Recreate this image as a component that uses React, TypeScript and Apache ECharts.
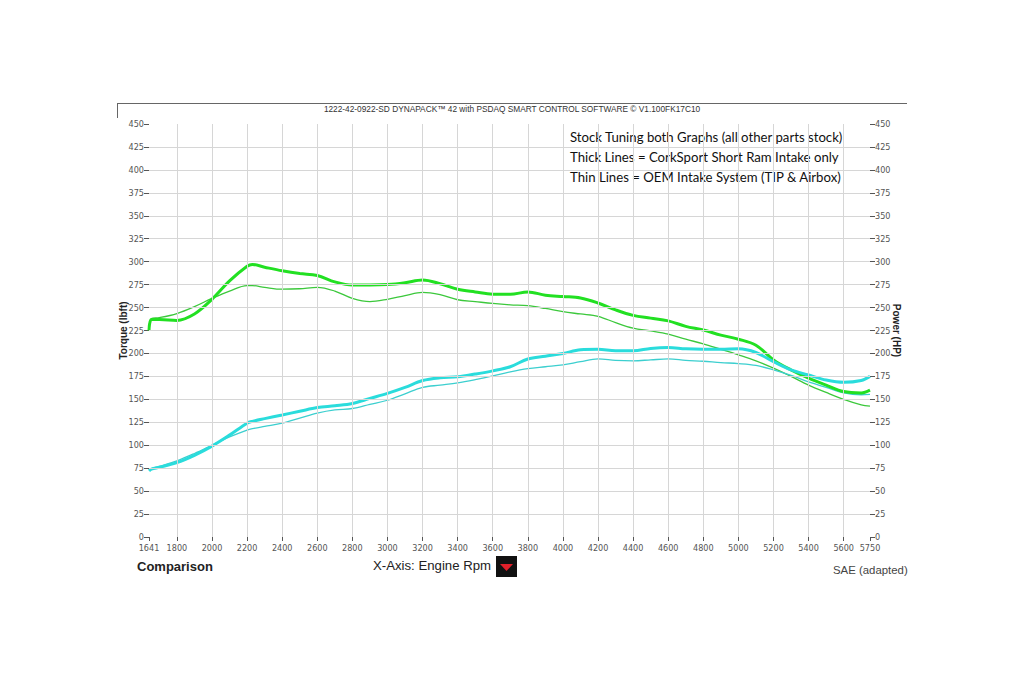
import React, { useEffect, useRef } from "react";
import * as echarts from "echarts";

const rpm = [1641, 1655, 1700, 1800, 1900, 2000, 2100, 2200, 2230, 2300, 2400, 2500, 2600, 2700, 2800, 2900, 3000, 3100, 3200, 3300, 3400, 3500, 3600, 3700, 3800, 3900, 4000, 4100, 4200, 4300, 4400, 4500, 4600, 4700, 4800, 4900, 5000, 5100, 5200, 5300, 5400, 5500, 5600, 5700, 5750];

const torqueThick = [225, 237, 237, 236, 243, 259, 279, 295, 297, 294, 290, 287, 285, 278, 274.5, 274.5, 275, 277, 280, 276, 270, 267, 264.5, 264.5, 267, 263.5, 262, 260.5, 255, 247.5, 241.5, 238.5, 235.5, 229.5, 225.5, 220, 215.5, 209, 193, 182, 173, 165.5, 158.5, 157, 160];
const torqueThin = [228, 238, 239, 243.5, 251, 260, 268, 274, 274, 272, 270, 270.5, 272, 268, 260, 256.5, 259, 263, 266.5, 264, 258.5, 256.5, 254.5, 253, 252, 249, 245.5, 243, 240.5, 233.5, 227.5, 224.5, 221, 215.5, 210.5, 204.5, 198.5, 192, 184, 175, 165.5, 157.5, 150, 144, 142.5];
const powerThick = [72, 74, 76, 81, 89, 99, 111, 124, 126, 129, 133, 137, 141, 143, 145.5, 151, 156.5, 163, 170.5, 173.5, 174.5, 177.5, 181, 185.5, 194, 197, 200, 204, 204.5, 203, 203, 205.5, 206.5, 205, 204.5, 204.5, 205, 201, 191, 182, 176.5, 171, 168.5, 170.5, 175];
const powerThin = [73, 74.5, 77, 83, 91, 100, 109, 116.5, 118, 120.5, 124, 129.5, 135, 138.5, 140, 144.5, 149, 156, 163, 165.5, 168, 171.5, 175.5, 180, 183.5, 185.5, 187.5, 191, 194, 192.5, 192, 193, 194, 192.5, 191.5, 190, 189, 187, 182, 176, 169, 163, 157, 155, 155.5];

const rpmMin = 1641;
const rpmMax = 5750;
const rpmStep = 200;
const xGridValues = [1800, 2000, 2200, 2400, 2600, 2800, 3000, 3200, 3400, 3600, 3800, 4000, 4200, 4400, 4600, 4800, 5000, 5200, 5400, 5600];
const yGridValues = [25, 50, 75, 100, 125, 150, 175, 200, 225, 250, 275, 300, 325, 350, 375, 400, 425];

const titleText = "1222-42-0922-SD DYNAPACK\u2122 42 with PSDAQ SMART CONTROL SOFTWARE \u00a9 V1.100FK17C10";
const noteLines = [
  "Stock Tuning both Graphs (all other parts stock)",
  "Thick Lines = CorkSport Short Ram Intake only",
  "Thin Lines = OEM Intake System (TIP & Airbox)",
];

const pairs = (ys: number[]) => rpm.map((x, i) => [x, ys[i]]);

const narrow = "'Liberation Sans Narrow', 'DejaVu Sans Condensed', 'Arial Narrow', 'Liberation Sans', sans-serif";
const arial = "'Liberation Sans', Arial, sans-serif";

export default function App() {
  const ref = useRef<HTMLDivElement>(null);
  useEffect(() => {
    if (!ref.current) return;
    const chart = echarts.init(ref.current, null, { renderer: "svg" });
    const gridLine = { color: "#d6d6d6", width: 1, type: "solid" as const };
    const tickLabel = { color: "#555", fontSize: 9, fontFamily: narrow };
    chart.setOption({
      animation: false,
      backgroundColor: "#ffffff",
      grid: { left: 149, right: 154, top: 124, bottom: 146 },
      xAxis: [
        {
          type: "value",
          min: rpmMin,
          max: rpmMax,
          splitNumber: 20,
          minInterval: rpmStep,
          maxInterval: rpmStep,
          position: "bottom",
          axisLine: { show: false },
          axisTick: { show: true, length: 4, lineStyle: { color: "#555" } },
          axisLabel: { ...tickLabel, margin: 6, showMinLabel: false, showMaxLabel: false, formatter: (v: number) => (v === rpmMin || v === rpmMax ? "" : String(v)) },
          splitLine: { show: false },
        },
        {
          type: "value",
          min: rpmMin,
          max: rpmMax,
          interval: rpmMax - rpmMin,
          position: "bottom",
          offset: 0,
          axisLine: { show: false },
          axisTick: { show: true, length: 4, lineStyle: { color: "#555" } },
          axisLabel: { ...tickLabel, margin: 6, showMinLabel: true, showMaxLabel: true, formatter: (v: number) => String(v) },
          splitLine: { show: false },
        },
      ],
      yAxis: [
        {
          type: "value",
          min: 0,
          max: 450,
          interval: 25,
          position: "left",
          axisLine: { show: false },
          axisTick: { show: true, length: 5, lineStyle: { color: "#555" } },
          axisLabel: { ...tickLabel, margin: 5 },
          splitLine: { show: false },
          name: "Torque (lbft)",
          nameLocation: "middle",
          nameRotate: 90,
          nameGap: 21,
          nameMoveOverlap: false,
          nameTextStyle: { fontWeight: "bold", fontSize: 10, color: "#222", fontFamily: arial },
        },
        {
          type: "value",
          min: 0,
          max: 450,
          interval: 25,
          position: "right",
          axisLine: { show: false },
          axisTick: { show: true, length: 5, lineStyle: { color: "#555" } },
          axisLabel: { ...tickLabel, margin: 5 },
          splitLine: { show: false },
          name: "Power (HP)",
          nameLocation: "middle",
          nameRotate: -90,
          nameGap: 21,
          nameMoveOverlap: false,
          nameTextStyle: { fontWeight: "bold", fontSize: 10, color: "#222", fontFamily: arial },
        },
      ],
      series: [
        {
          type: "line",
          name: "grid",
          data: [],
          silent: true,
          markLine: {
            silent: true,
            symbol: "none",
            label: { show: false },
            lineStyle: gridLine,
            data: [
              ...xGridValues.map((v) => ({ xAxis: v })),
              ...yGridValues.map((v) => ({ yAxis: v })),
            ],
          },
        },
        {
          type: "line",
          name: "Torque OEM",
          data: pairs(torqueThin),
          smooth: 0.35,
          showSymbol: false,
          lineStyle: { color: "#3cc83c", width: 1.3 },
        },
        {
          type: "line",
          name: "Power OEM",
          data: pairs(powerThin),
          smooth: 0.35,
          showSymbol: false,
          lineStyle: { color: "#3ccfcf", width: 1.3 },
        },
        {
          type: "line",
          name: "Torque CorkSport",
          data: pairs(torqueThick),
          smooth: 0.35,
          showSymbol: false,
          lineStyle: { color: "#22e022", width: 3 },
        },
        {
          type: "line",
          name: "Power CorkSport",
          data: pairs(powerThick),
          smooth: 0.35,
          showSymbol: false,
          lineStyle: { color: "#2adcdc", width: 3 },
        },
      ],
      graphic: [
        { type: "line", shape: { x1: 117, y1: 103.5, x2: 907, y2: 103.5 }, style: { stroke: "#666", lineWidth: 1 } },
        { type: "line", shape: { x1: 117.5, y1: 103, x2: 117.5, y2: 118 }, style: { stroke: "#666", lineWidth: 1 } },
        {
          type: "text",
          x: 512,
          y: 109,
          style: { text: titleText, fontSize: 8.3, fill: "#333", align: "center", verticalAlign: "middle", fontFamily: arial },
        },
        {
          type: "text",
          x: 570,
          y: 127,
          style: {
            text: noteLines.join("\n"),
            fontSize: 13.2,
            lineHeight: 20,
            fill: "#111",
            fontFamily: "Lato, 'Open Sans', sans-serif",
          },
        },
        {
          type: "text",
          x: 137,
          y: 566,
          style: { text: "Comparison", fontSize: 13, fontWeight: "bold", fill: "#222", verticalAlign: "middle", fontFamily: arial },
        },
        {
          type: "text",
          x: 373,
          y: 565,
          style: { text: "X-Axis: Engine Rpm", fontSize: 13.2, fill: "#222", verticalAlign: "middle", fontFamily: arial },
        },
        { type: "rect", shape: { x: 496, y: 556, width: 21, height: 21 }, style: { fill: "#111" } },
        { type: "polygon", shape: { points: [[500, 564], [513, 564], [506.5, 571]] }, style: { fill: "#e0202a" } },
        {
          type: "text",
          x: 833,
          y: 570,
          style: { text: "SAE (adapted)", fontSize: 11.4, fill: "#444", verticalAlign: "middle", fontFamily: arial },
        },
      ],
    });
    return () => chart.dispose();
  }, []);
  return <div ref={ref} style={{ position: "fixed", left: 0, top: 0, width: 1024, height: 683 }} />;
}
